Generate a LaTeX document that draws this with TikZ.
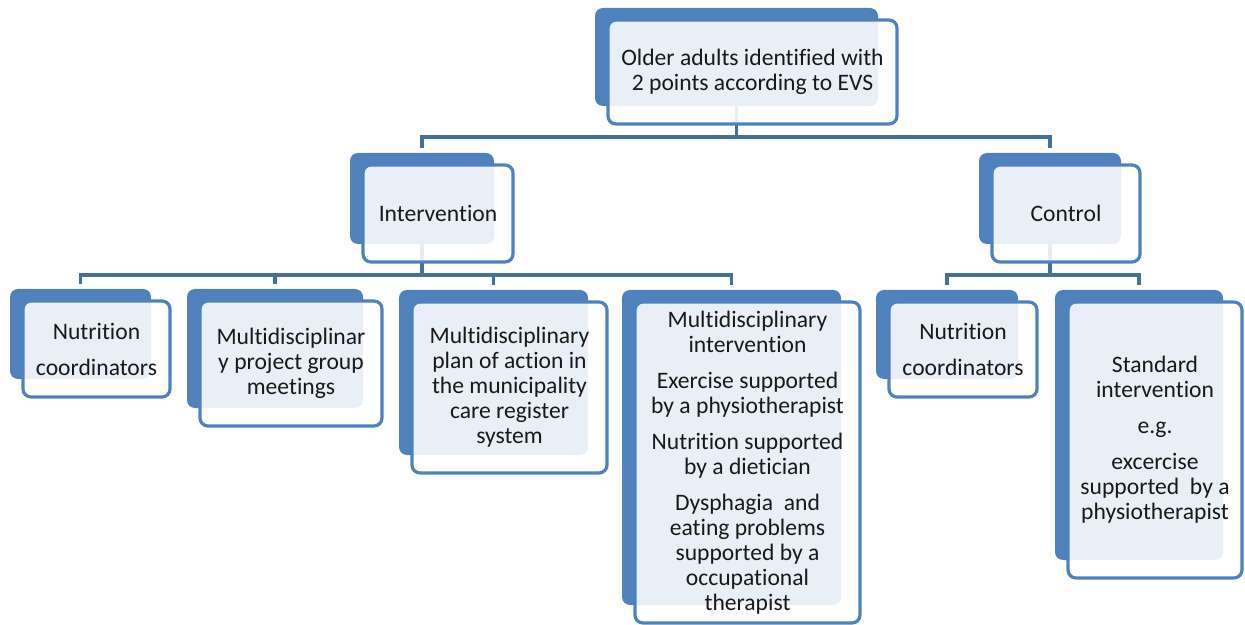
\documentclass[tikz,border=0pt]{standalone}
\usepackage{fontspec}
\setmainfont{Carlito}[Ligatures=NoCommon]
\usepackage{tikz}
\usetikzlibrary{fit, backgrounds}
\definecolor{boxblue}{HTML}{4F81BD}
\definecolor{lineblue}{HTML}{41719C}

\begin{document}
\begin{tikzpicture}[x=0.5pt, y=-0.5pt,
    front/.style={draw=boxblue, line width=1.6pt, rounded corners=4pt, fill=white, fill opacity=0.88, text opacity=1,
                  align=center, inner sep=0pt, outer sep=0pt, text=black!90, font=\fontsize{11.8}{12.5}\selectfont},
    back/.style={fill=boxblue, rounded corners=4pt, inner sep=0pt, outer sep=0pt},
    conn/.style={draw=lineblue, line width=1.8pt, shorten >=2.5pt}]
    \useasboundingbox (0,0) rectangle (1245,625);
    \node[front, minimum width=144.5pt, minimum height=52pt]   (top)     at (752.5,72)    {Older adults identified with\\2 points according to EVS};
    \node[front, minimum width=75pt,    minimum height=48.5pt] (interv)  at (438,213.5)   {Intervention};
    \node[front, minimum width=74pt,    minimum height=48.5pt] (control) at (1066,213.5)  {Control};
    \node[front, minimum width=73.5pt,  minimum height=48pt]   (nutrl)   at (96.5,349)    {Nutrition\\[5.5pt]coordinators};
    \node[front, minimum width=91pt,    minimum height=62.5pt] (proj)    at (291,363.5)   {Multidisciplinar\\y project group\\meetings};
    \node[front, minimum width=97.5pt,  minimum height=85.5pt] (plan)    at (509.5,387.5) {Multidisciplinary\\plan of action in\\the municipality\\care register\\system};
    \node[front, minimum width=112.5pt, minimum height=160.5pt](multi)   at (747.5,462.5) {Multidisciplinary\\intervention\\[5.5pt]Exercise supported\\by a physiotherapist\\[5.5pt]Nutrition supported\\by a dietician\\[5.5pt]Dysphagia~ and\\eating problems\\supported by a\\occupational\\therapist};
    \node[front, minimum width=74pt,    minimum height=47.5pt] (nutrr)   at (963,349.5)   {Nutrition\\[5.5pt]coordinators};
    \node[front, minimum width=87pt,    minimum height=138pt]  (std)     at (1155,440)    {Standard\\intervention\\[5.5pt]e.g.\\[5.5pt]excercise\\supported~ by a\\physiotherapist};
    \begin{scope}[on background layer]
        \foreach \n in {top,interv,control,nutrl,proj,plan,multi,nutrr,std}
            \node[back, fit={([shift={(-13,-12)}]\n.north west) ([shift={(-19,-18)}]\n.south east)}] (\n-b) {};
        \draw[conn] (top-b.south)     -- ++(0,31) -| (interv-b.north);
        \draw[conn] (top-b.south)     -- ++(0,31) -| (control-b.north);
        \draw[conn] (interv-b.south)  -- ++(0,31) -| (nutrl-b.north);
        \draw[conn] (interv-b.south)  -- ++(0,31) -| (proj-b.north);
        \draw[conn] (interv-b.south)  -- ++(0,31) -| (plan-b.north);
        \draw[conn] (interv-b.south)  -- ++(0,31) -| (multi-b.north);
        \draw[conn] (control-b.south) -- ++(0,31) -| (nutrr-b.north);
        \draw[conn] (control-b.south) -- ++(0,31) -| (std-b.north);
    \end{scope}
\end{tikzpicture}
\end{document}
